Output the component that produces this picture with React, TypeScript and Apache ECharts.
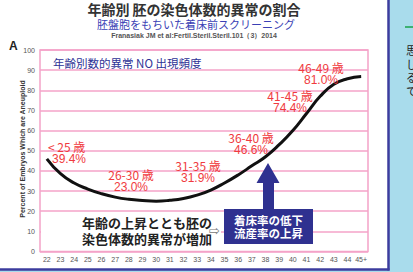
import React, { useEffect, useRef } from "react";
import * as echarts from "echarts";

const ages = ["22","23","24","25","26","27","28","29","30","31","32","33","34","35","36","37","38","39","40","41","42","43","44","45+"];
const aneuploidy = [46, 38.6, 34, 31, 28.7, 27, 25.9, 25.3, 25.0, 25.4, 26.3, 28, 30.5, 34, 38, 42.5, 47, 53, 60, 68.5, 77, 83, 85.7, 86.8];
const yTicks = { min: 0, max: 100, interval: 10 };
const groupLabels = [
  { age: "< 25 歳", pct: "39.4%" },
  { age: "26-30 歳", pct: "23.0%" },
  { age: "31-35 歳", pct: "31.9%" },
  { age: "36-40 歳", pct: "46.6%" },
  { age: "41-45 歳", pct: "74.4%" },
  { age: "46-49 歳", pct: "81.0%" },
];
const titleText = "年齢別 胚の染色体数的異常の割合";
const subtitleText = "胚盤胞をもちいた着床前スクリーニング";
const refText = "Franasiak JM et al:Fertil.Steril.Steril.101（3）2014";
const yAxisName = "Percent of Embryos Which are Aneuploid";
const innerTitle = "年齢別数的異常 NO 出現頻度";
const noteLines = ["年齢の上昇ととも胚の", "染色体数的異常が増加"];
const boxLines = ["着床率の低下", "流産率の上昇"];
const sideChars = ["思", "し", "る", "て"];

const JP = '"Noto Sans CJK JP", "Noto Sans", sans-serif';
const RED = "#f03a40";
const PINK = "#f4a3c8";
const NAVY = "#2f3190";

export default function App() {
  const ref = useRef<HTMLDivElement>(null);
  useEffect(() => {
    if (!ref.current) return;
    const chart = echarts.init(ref.current, null, { renderer: "svg" });
    const labelPos = [
      [69, 146], [131, 174], [198, 165], [251, 137], [290, 95], [321, 67],
    ];
    const graphics: any[] = [];
    // right side panel
    graphics.push({ type: "rect", shape: { x: 389, y: 0, width: 24, height: 272 }, style: { fill: "#a9dcec" }, z: 0 });
    graphics.push({ type: "rect", shape: { x: 0, y: 270, width: 413, height: 2 }, style: { fill: "#a9dcec" }, z: 0 });
    graphics.push({ type: "line", shape: { x1: 388.5, y1: 0, x2: 388.5, y2: 270.5 }, style: { stroke: "#3c3c9e", lineWidth: 2.5 }, z: 10 });
    graphics.push({ type: "line", shape: { x1: 0, y1: 269.5, x2: 389.5, y2: 269.5 }, style: { stroke: "#3c3c9e", lineWidth: 2.5 }, z: 10 });
    graphics.push({ type: "line", shape: { x1: 405, y1: 27, x2: 413, y2: 27 }, style: { stroke: "#1aa34a", lineWidth: 1.5 }, z: 10 });
    sideChars.forEach((c, i) => {
      graphics.push({ type: "text", x: 406, y: 50 + i * 13.5, style: { text: c, font: `11px ${JP}`, lineHeight: 11, fill: "#222", verticalAlign: "middle" }, z: 10 });
    });
    // titles
    graphics.push({ type: "text", x: 194, y: 9, style: { text: titleText, font: `bold 14px ${JP}`, lineHeight: 14, fill: "#333", align: "center", verticalAlign: "middle" } });
    graphics.push({ type: "text", x: 196, y: 23.5, style: { text: subtitleText, font: `11px ${JP}`, lineHeight: 11, fill: "#3a3fb5", align: "center", verticalAlign: "middle" } });
    graphics.push({ type: "text", x: 194, y: 35, style: { text: refText, font: `bold 7px "Liberation Sans", Arial, sans-serif`, lineHeight: 7, fill: "#555", align: "center", verticalAlign: "middle" } });
    graphics.push({ type: "text", x: 9, y: 46, style: { text: "A", font: `bold 12px "Liberation Sans", Arial, sans-serif`, fill: "#222", verticalAlign: "middle" } });
    graphics.push({ type: "text", x: 22, y: 149, rotation: Math.PI / 2, style: { text: yAxisName, font: `bold 7px "Liberation Sans", Arial, sans-serif`, fill: "#333", align: "center", verticalAlign: "middle" } });
    graphics.push({ type: "text", x: 53, y: 63, style: { text: innerTitle, font: `11.5px ${JP}`, fill: "#2e3296", verticalAlign: "middle" }, z: 10 });
    // red labels
    groupLabels.forEach((g, i) => {
      const [x, y] = labelPos[i];
      const isFirst = i === 0;
      graphics.push({ type: "text", x: isFirst ? 48 : x, y, style: { text: g.age, font: `12px ${JP}`, lineHeight: 12, fill: RED, align: isFirst ? "left" : "center", verticalAlign: "middle" }, z: 10 });
      graphics.push({ type: "text", x: isFirst ? 52 : x, y: y + 13, style: { text: g.pct, font: `12px "Liberation Sans", Arial, sans-serif`, lineHeight: 12, fill: RED, align: isFirst ? "left" : "center", verticalAlign: "middle" }, z: 10 });
    });
    // note
    graphics.push({ type: "rect", shape: { x: 41, y: 213, width: 180, height: 37 }, style: { fill: "#fff" }, z: 5 });
    noteLines.forEach((t, i) => {
      graphics.push({ type: "text", x: 82, y: 222.5 + i * 16, style: { text: t, font: `bold 13px ${JP}`, lineHeight: 13, fill: "#222", verticalAlign: "middle" }, z: 10 });
    });
    graphics.push({ type: "text", x: 209, y: 230, style: { text: "⇨", font: `13px "DejaVu Sans", sans-serif`, fill: "#777", verticalAlign: "middle" }, z: 10 });
    // arrow + box
    graphics.push({ type: "polygon", shape: { points: [[268, 163], [279.5, 183], [274, 183], [274, 210], [263, 210], [263, 183], [256.5, 183]] }, style: { fill: NAVY }, z: 10 });
    graphics.push({ type: "rect", shape: { x: 224, y: 209, width: 89, height: 35 }, style: { fill: NAVY }, z: 10 });
    boxLines.forEach((t, i) => {
      graphics.push({ type: "text", x: 268.5, y: 219.5 + i * 13, style: { text: t, font: `bold 11.5px ${JP}`, lineHeight: 11.5, fill: "#fff", align: "center", verticalAlign: "middle" }, z: 11 });
    });

    chart.setOption({
      animation: false,
      backgroundColor: "#fff",
      grid: { left: 40, right: 45, top: 50, bottom: 20.5, show: true, borderColor: PINK, borderWidth: 1.5, backgroundColor: "transparent" },
      xAxis: {
        type: "category",
        data: ages,
        boundaryGap: true,
        axisLine: { show: false },
        axisTick: { show: false },
        axisLabel: { fontSize: 7, color: "#555", margin: 4, fontFamily: '"Liberation Sans", Arial, sans-serif', interval: 0 },
        splitLine: { show: false },
      },
      yAxis: {
        type: "value",
        min: yTicks.min,
        max: yTicks.max,
        interval: yTicks.interval,
        axisLine: { show: false },
        axisTick: { show: false },
        axisLabel: { fontSize: 7, color: "#555", margin: 5, fontFamily: '"Liberation Sans", Arial, sans-serif' },
        splitLine: { show: true, lineStyle: { color: PINK, width: 1.5 } },
      },
      series: [
        {
          type: "line",
          data: aneuploidy,
          smooth: true,
          showSymbol: false,
          symbol: "none",
          lineStyle: { color: "#111", width: 3 },
          z: 3,
        },
      ],
      graphic: graphics,
    });
    return () => chart.dispose();
  }, []);
  return <div ref={ref} style={{ position: "fixed", left: 0, top: 0, width: 413, height: 272 }} />;
}
